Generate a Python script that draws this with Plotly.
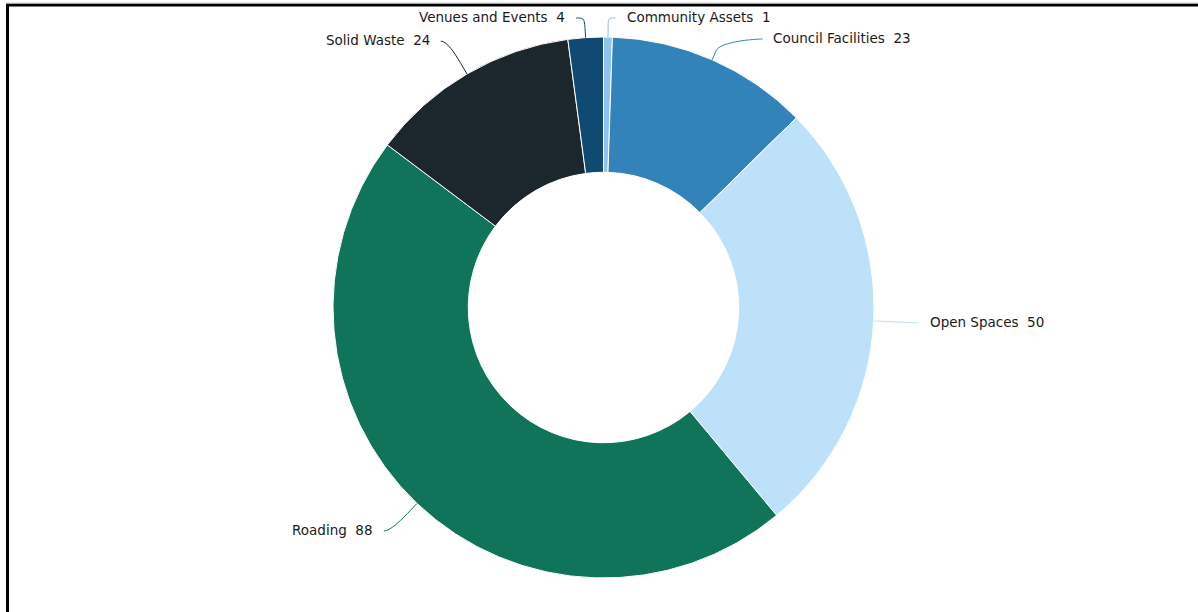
import math
import plotly.graph_objects as go

# slice data, clockwise from 12 o'clock
labels = ['Community Assets', 'Council Facilities', 'Open Spaces',
          'Roading', 'Solid Waste', 'Venues and Events']
values = [1, 23, 50, 88, 24, 4]
colors = ['#90c3ec', '#3383bb', '#bde1f8', '#0f745a', '#1c262d', '#104a72']

W, H = 1198, 612
CX, CY, R = 603.5, 307.5, 270.5   # donut centre / radius in pixels
LABEL_DIST = 38
TOP_Y = 18
ROW_H = 21
PAD = 16


def px(x):
    return x / W


def py(y):
    return 1 - y / H


fig = go.Figure()
fig.add_trace(go.Pie(
    labels=labels,
    values=values,
    hole=0.5,
    sort=False,
    direction='clockwise',
    rotation=0,
    marker=dict(colors=colors, line=dict(color='#ffffff', width=1)),
    textinfo='none',
    hoverinfo='label+value',
    domain=dict(x=[px(CX - R), px(CX + R)], y=[py(CY + R), py(CY - R)]),
    showlegend=False,
))

# outside labels with soft connectors, placed from the slice angles
total = sum(values)
rl = R + LABEL_DIST
items = []
acc = 0
for name, v, c in zip(labels, values, colors):
    theta = 2 * math.pi * (acc + v / 2) / total
    acc += v
    side = 1 if math.sin(theta) >= 0 else -1
    items.append(dict(name=name, v=v, c=c, theta=theta, side=side,
                      ny=CY - rl * math.cos(theta)))

for s in (1, -1):
    grp = sorted([it for it in items if it['side'] == s], key=lambda it: it['ny'])
    prev = TOP_Y - ROW_H
    for it in grp:
        it['y'] = max(it['ny'], prev + ROW_H)
        prev = it['y']

shapes = []
annotations = []
for it in items:
    th, s, y = it['theta'], it['side'], it['y']
    if it['ny'] < TOP_Y:
        x = CX + rl * math.sin(th)
    else:
        x = CX + s * math.sqrt(max(rl ** 2 - (y - CY) ** 2, 0))
    ex, ey = CX + R * math.sin(th), CY - R * math.cos(th)
    bx, by = CX + (R + 10) * math.sin(th), CY - (R + 10) * math.cos(th)
    c2x, c2y = 2 * bx - ex, 2 * by - ey
    sx = x + s * (PAD - 9)
    path = (f"M {px(sx)},{py(y)} C {px(x)},{py(y)} {px(c2x)},{py(c2y)} "
            f"{px(bx)},{py(by)} L {px(ex)},{py(ey)}")
    shapes.append(dict(type='path', xref='paper', yref='paper', path=path,
                       line=dict(color=it['c'], width=1)))
    annotations.append(dict(
        x=px(x + s * PAD), y=py(y - 1), xref='paper', yref='paper',
        text=f"{it['name']}\u00a0 {it['v']}", showarrow=False,
        xanchor='left' if s > 0 else 'right', yanchor='middle',
        font=dict(family='DejaVu Sans', size=13.5, color='#1a1a1a'),
    ))

# frame lines (top and left)
shapes.append(dict(type='line', xref='paper', yref='paper',
                   x0=px(6), x1=1, y0=py(5), y1=py(5),
                   line=dict(color='#000000', width=3)))
shapes.append(dict(type='line', xref='paper', yref='paper',
                   x0=px(7.5), x1=px(7.5), y0=py(4), y1=0,
                   line=dict(color='#000000', width=3)))
shapes.append(dict(type='line', xref='paper', yref='paper',
                   x0=px(6), x1=1, y0=py(3), y1=py(3),
                   line=dict(color='#cccccc', width=1)))

fig.update_layout(
    width=W, height=H,
    margin=dict(l=0, r=0, t=0, b=0),
    paper_bgcolor='#ffffff',
    plot_bgcolor='#ffffff',
    shapes=shapes,
    annotations=annotations,
)

fig.write_html("out.html", config={'displayModeBar': False},
               post_script="document.body.style.margin='0';")
